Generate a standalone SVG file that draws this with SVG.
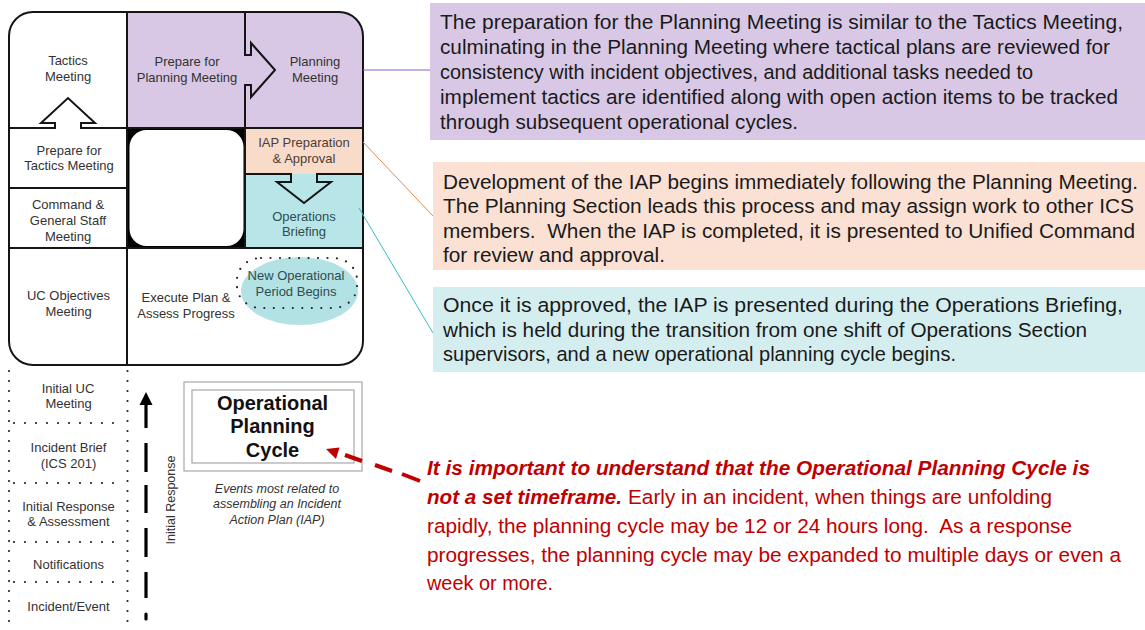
<svg xmlns="http://www.w3.org/2000/svg" width="1145" height="630" viewBox="0 0 1145 630">
  <style>
    text { font-family: "Liberation Sans", Arial, sans-serif; }
    .cell { font-size: 13px; fill: #333; text-anchor: middle; }
    .iap { fill: #4d3d35; }
    .ops { fill: #2e4d52; }
    .grid { fill: none; stroke: #151515; stroke-width: 2; stroke-linejoin: miter; }
    .dots { fill: none; stroke: #222; stroke-width: 2.2; stroke-linecap: round; stroke-dasharray: 0 10; }
    .para { font-size: 20.5px; fill: #1a1a1a; }
    .red { font-size: 20.5px; fill: #c00000; }
    .redb { font-weight: bold; font-style: italic; }
    .title { font-size: 20px; font-weight: bold; fill: #111; text-anchor: middle; }
    .caption { font-size: 12.5px; font-style: italic; fill: #333; text-anchor: middle; }
    .frame2 { fill: none; stroke: #a8a8a8; stroke-width: 1.2; }
  </style>

  <rect width="1145" height="630" fill="#ffffff"/>

  <!-- cycle cell backgrounds -->
  <g id="cell-prepare-planning">
    <rect x="127" y="12" width="118" height="116" fill="#d8c8e5"/>
    <text class="cell" x="187" y="66">Prepare for</text>
    <text class="cell" x="187" y="82">Planning Meeting</text>
  </g>
  <g id="cell-planning-meeting">
    <path d="M245,12 H339 A24,24 0 0 1 363,36 V128 H245 Z" fill="#d8c8e5"/>
    <text class="cell" x="315" y="66">Planning</text>
    <text class="cell" x="315" y="82">Meeting</text>
  </g>
  <g id="cell-iap">
    <rect x="245" y="128" width="118" height="46" fill="#f8dbc9"/>
    <text class="cell iap" x="304" y="147">IAP Preparation</text>
    <text class="cell iap" x="304" y="163">&amp; Approval</text>
  </g>
  <g id="cell-ops-briefing">
    <rect x="245" y="174" width="118" height="74" fill="#b8e5e8"/>
    <text class="cell ops" x="304" y="220.5">Operations</text>
    <text class="cell ops" x="304" y="236">Briefing</text>
  </g>
  <g id="cell-center">
    <rect x="127" y="128" width="118" height="120" fill="#000"/>
    <rect x="129.5" y="130" width="114" height="116" rx="17" fill="#fff"/>
  </g>
  <g id="cell-tactics-meeting">
    <text class="cell" x="68" y="65">Tactics</text>
    <text class="cell" x="68" y="81">Meeting</text>
  </g>
  <g id="cell-prepare-tactics">
    <text class="cell" x="69" y="154.5">Prepare for</text>
    <text class="cell" x="69" y="170">Tactics Meeting</text>
  </g>
  <g id="cell-command-general">
    <text class="cell" x="68" y="208.5">Command &amp;</text>
    <text class="cell" x="68" y="224.5">General Staff</text>
    <text class="cell" x="68" y="240.5">Meeting</text>
  </g>
  <g id="cell-uc-objectives">
    <text class="cell" x="68.5" y="300">UC Objectives</text>
    <text class="cell" x="68.5" y="316">Meeting</text>
  </g>
  <g id="cell-execute">
    <text class="cell" x="186" y="302">Execute Plan &amp;</text>
    <text class="cell" x="186" y="318">Assess Progress</text>
  </g>
  <g id="cell-new-period">
    <ellipse cx="299.5" cy="291" rx="58.5" ry="34" fill="#b3e2e5"/>
    <rect x="237" y="258" width="120" height="50" rx="24" ry="22" class="dots" style="stroke-dasharray:0 9.5"/>
    <text class="cell ops" x="296" y="279.5">New Operational</text>
    <text class="cell ops" x="296" y="295.5">Period Begins</text>
  </g>

  <!-- grid lines with the notched step arrows -->
  <g id="cycle-grid">
    <line class="grid" x1="127" y1="12" x2="127" y2="365"/>
    <path class="grid" d="M245,12 V55 H251 V43 L275,70 L251,97 V85 H245 V248"/>
    <path class="grid" d="M9,128 H55 V123 H41 L68,98 L95,123 H81 V128 H363"/>
    <line class="grid" x1="9" y1="188" x2="127" y2="188"/>
    <line class="grid" x1="9" y1="248" x2="363" y2="248"/>
    <path class="grid" d="M245,174 H291 V182 H277 L304,203 L331,182 H317 V174 H363"/>
    <rect class="grid" x="9" y="12" width="354" height="353" rx="24"/>
  </g>

  <!-- initial response stack -->
  <g id="initial-response-stack">
    <line class="dots" x1="9" y1="371" x2="9" y2="630"/>
    <line class="dots" x1="127.5" y1="371" x2="127.5" y2="630"/>
    <line class="dots" x1="14" y1="423" x2="124" y2="423" style="stroke-dasharray:0 11"/>
    <line class="dots" x1="14" y1="483" x2="124" y2="483" style="stroke-dasharray:0 11"/>
    <line class="dots" x1="14" y1="542" x2="124" y2="542" style="stroke-dasharray:0 11"/>
    <line class="dots" x1="14" y1="582" x2="124" y2="582" style="stroke-dasharray:0 11"/>
  </g>
  <g id="step-initial-uc">
    <text class="cell" x="68" y="392.5">Initial UC</text>
    <text class="cell" x="68.5" y="408">Meeting</text>
  </g>
  <g id="step-incident-brief">
    <text class="cell" x="68.5" y="452">Incident Brief</text>
    <text class="cell" x="68.5" y="468">(ICS 201)</text>
  </g>
  <g id="step-initial-response">
    <text class="cell" x="68.5" y="510.5">Initial Response</text>
    <text class="cell" x="68.5" y="526">&amp; Assessment</text>
  </g>
  <g id="step-notifications">
    <text class="cell" x="68.5" y="568.5">Notifications</text>
  </g>
  <g id="step-incident-event">
    <text class="cell" x="68.5" y="610.5">Incident/Event</text>
  </g>
  <g id="label-initial-response">
    <text class="cell" transform="translate(174.5,500) rotate(-90)" x="0" y="0" style="font-size:12.5px">Initial Response</text>
  </g>

  <!-- title block -->
  <g id="title-block">
    <rect class="frame2" x="184" y="382" width="178" height="89"/>
    <rect class="frame2" x="192" y="390" width="162" height="73"/>
    <text class="title" x="272.5" y="409.5">Operational</text>
    <text class="title" x="272.5" y="433">Planning</text>
    <text class="title" x="272.5" y="456.5">Cycle</text>
    <text class="caption" x="277" y="492.5">Events most related to</text>
    <text class="caption" x="277" y="508">assembling an Incident</text>
    <text class="caption" x="277" y="523.5">Action Plan (IAP)</text>
  </g>

  <!-- explanation panels -->
  <g id="note-planning">
    <rect x="430" y="3" width="715" height="137" fill="#d8c8e5"/>
    <text class="para" x="440" y="28.5" textLength="683" lengthAdjust="spacingAndGlyphs">The preparation for the Planning Meeting is similar to the Tactics Meeting,</text>
    <text class="para" x="440" y="53.5" textLength="670" lengthAdjust="spacingAndGlyphs">culminating in the Planning Meeting where tactical plans are reviewed for</text>
    <text class="para" x="440" y="78.5" textLength="593" lengthAdjust="spacingAndGlyphs">consistency with incident objectives, and additional tasks needed to</text>
    <text class="para" x="440" y="103.5" textLength="678" lengthAdjust="spacingAndGlyphs">implement tactics are identified along with open action items to be tracked</text>
    <text class="para" x="440" y="128.5" textLength="358" lengthAdjust="spacingAndGlyphs">through subsequent operational cycles.</text>
  </g>
  <g id="note-iap">
    <rect x="433" y="162" width="712" height="108" fill="#fbe1d4"/>
    <text class="para" x="443" y="188.5" textLength="695" lengthAdjust="spacingAndGlyphs">Development of the IAP begins immediately following the Planning Meeting.</text>
    <text class="para" x="443" y="212.5" textLength="691" lengthAdjust="spacingAndGlyphs">The Planning Section leads this process and may assign work to other ICS</text>
    <text class="para" x="443" y="237.5" textLength="692" lengthAdjust="spacingAndGlyphs" xml:space="preserve">members.  When the IAP is completed, it is presented to Unified Command</text>
    <text class="para" x="443" y="261.5" textLength="222" lengthAdjust="spacingAndGlyphs">for review and approval.</text>
  </g>
  <g id="note-ops">
    <rect x="433" y="287" width="712" height="85" fill="#d4eef0"/>
    <text class="para" x="443" y="311.5" textLength="680" lengthAdjust="spacingAndGlyphs">Once it is approved, the IAP is presented during the Operations Briefing,</text>
    <text class="para" x="443" y="336.5" textLength="644" lengthAdjust="spacingAndGlyphs">which is held during the transition from one shift of Operations Section</text>
    <text class="para" x="443" y="360.5" textLength="513" lengthAdjust="spacingAndGlyphs">supervisors, and a new operational planning cycle begins.</text>
  </g>
  <g id="note-timeframe">
    <text class="red redb" x="427" y="474.5" textLength="663" lengthAdjust="spacingAndGlyphs">It is important to understand that the Operational Planning Cycle is</text>
    <text class="red redb" x="427" y="503.5" textLength="195" lengthAdjust="spacingAndGlyphs">not a set timeframe.</text>
    <text class="red" x="628" y="503.5" textLength="424" lengthAdjust="spacingAndGlyphs">Early in an incident, when things are unfolding</text>
    <text class="red" x="427" y="532.5" textLength="645" lengthAdjust="spacingAndGlyphs" xml:space="preserve">rapidly, the planning cycle may be 12 or 24 hours long.  As a response</text>
    <text class="red" x="427" y="561.5" textLength="694" lengthAdjust="spacingAndGlyphs">progresses, the planning cycle may be expanded to multiple days or even a</text>
    <text class="red" x="427" y="589.5" textLength="126" lengthAdjust="spacingAndGlyphs">week or more.</text>
  </g>

  <!-- connectors -->
  <g id="connectors">
    <line x1="363" y1="70" x2="430" y2="70" stroke="#8a5cc2" stroke-width="1"/>
    <line x1="363" y1="142" x2="433" y2="216" stroke="#e08a50" stroke-width="1"/>
    <line x1="359" y1="208" x2="433" y2="333" stroke="#3abcc6" stroke-width="1"/>
    <!-- initial response dashed arrow -->
    <g stroke="#000" stroke-width="3.2">
      <line x1="146" y1="614" x2="146" y2="619" stroke-linecap="round"/>
      <line x1="146" y1="572" x2="146" y2="598"/>
      <line x1="146" y1="528" x2="146" y2="557"/>
      <line x1="146" y1="485" x2="146" y2="513"/>
      <line x1="146" y1="443" x2="146" y2="472"/>
      <line x1="146" y1="403" x2="146" y2="428"/>
    </g>
    <polygon points="146,392 139.5,405 152.5,405" fill="#000"/>
    <!-- timeframe pointer -->
    <g stroke="#c00000" stroke-width="4">
      <line x1="420" y1="481" x2="402" y2="474"/>
      <line x1="392" y1="471" x2="375" y2="465"/>
      <line x1="362" y1="461" x2="345" y2="455"/>
    </g>
    <polygon points="326,449 339.5,447.5 336,459" fill="#c00000"/>
  </g>
</svg>
